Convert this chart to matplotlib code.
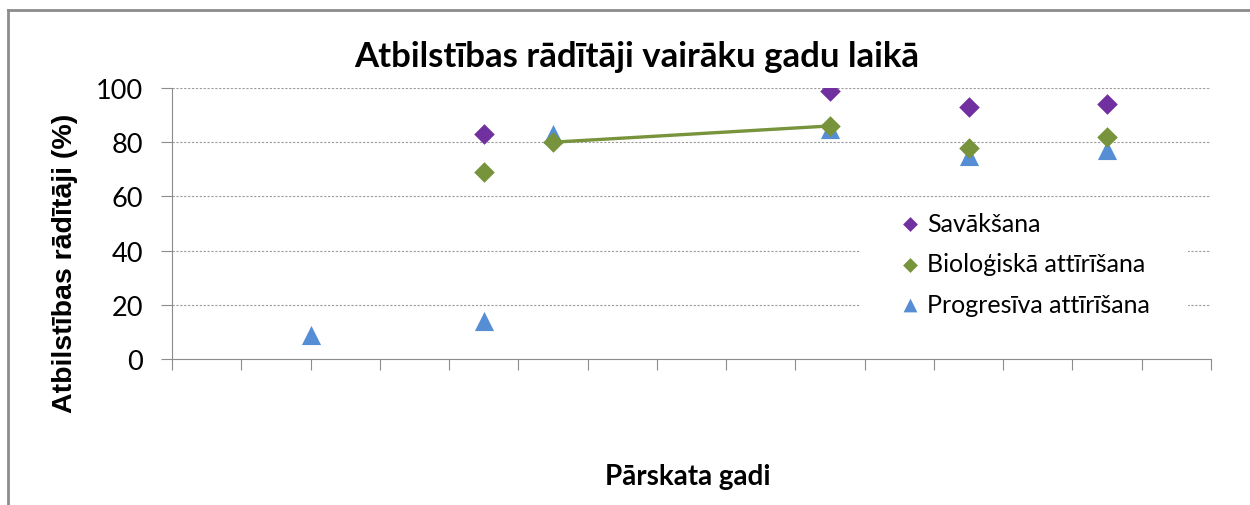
import matplotlib
matplotlib.use("Agg")
import matplotlib.pyplot as plt
import numpy as np
from matplotlib.lines import Line2D
from matplotlib.patches import Rectangle

plt.rcParams['font.family'] = ['Lato', 'DejaVu Sans']

# dati
x_pos = [2, 4.5, 5.5, 9.5, 11.5, 13.5]
savaksana = [np.nan, 83, np.nan, 99, 93, 94]
biologiska = [np.nan, 69, 80, 86, 78, 82]
progresiva = [9, 14, 83, 85, 75, 77]
# līnija starp diviem bioloģiskās attīrīšanas punktiem
line_idx = [2, 3]

labels = ['Savākšana', 'Bioloģiskā attīrīšana', 'Progresīva attīrīšana']
c_purple = '#7030A0'
c_green = '#77933C'
c_blue = '#558ED5'

fig = plt.figure(figsize=(12.5, 5.06), dpi=100)
ax = fig.add_axes([0.1376, 0.2885, 0.8312, 0.5356])

ax.plot([x_pos[i] for i in line_idx], [biologiska[i] for i in line_idx],
        color=c_green, lw=2.4, zorder=2)
ax.scatter(x_pos, savaksana, marker='D', s=110, color=c_purple,
           label=labels[0], zorder=3, linewidths=0)
ax.scatter(x_pos, biologiska, marker='D', s=110, color=c_green,
           label=labels[1], zorder=4, linewidths=0)
ax.scatter(x_pos, progresiva, marker='^', s=190, color=c_blue,
           label=labels[2], zorder=3, linewidths=0)

ax.set_xlim(0, 15)
ax.set_ylim(0, 100)
ax.set_xticks(np.arange(0, 16))
ax.set_xticklabels([])
ax.set_yticks([0, 20, 40, 60, 80, 100])
ax.tick_params(axis='y', labelsize=19.5, length=8, color='#8c8c8c', pad=13)
ax.tick_params(axis='x', length=8, color='#8c8c8c', direction='out')
ax.yaxis.grid(True, linestyle=(0, (2, 1.5)), color='#9a9a9a', lw=0.8)
ax.set_axisbelow(True)
for s in ['top', 'right']:
    ax.spines[s].set_visible(False)
for s in ['left', 'bottom']:
    ax.spines[s].set_color('#8c8c8c')

fig.text(0.509, 0.887, 'Atbilstības rādītāji vairāku gadu laikā', fontsize=25,
         fontweight='bold', ha='center', va='center')
fig.text(0.052, 0.48, 'Atbilstības rādītāji (%)', fontsize=20.5,
         fontweight='bold', family=['Liberation Sans', 'DejaVu Sans'],
         rotation=90, ha='center', va='center')
fig.text(0.55, 0.057, 'Pārskata gadi', fontsize=20, fontweight='bold',
         ha='center', va='center')

# leģendas fons (sedz režģa līnijas)
ax.add_patch(Rectangle((0.662, 0.09), 0.316, 0.489, transform=ax.transAxes,
                       facecolor='white', edgecolor='none', zorder=1))
ax.legend(loc='upper left', bbox_to_anchor=(0.6715, 0.635), frameon=False,
          fontsize=18, handletextpad=0.1, labelspacing=0.7, borderpad=0.5,
          handlelength=1.2, markerscale=0.72)

# rāmja līnijas
fig.add_artist(Line2D([0.0064, 1.0], [0.978, 0.978], color='#8c8c8c', lw=2,
                      transform=fig.transFigure))
fig.add_artist(Line2D([0.0064, 0.0064], [0.0, 0.978], color='#8c8c8c', lw=2,
                      transform=fig.transFigure))

fig.savefig('out.png', dpi=100)
